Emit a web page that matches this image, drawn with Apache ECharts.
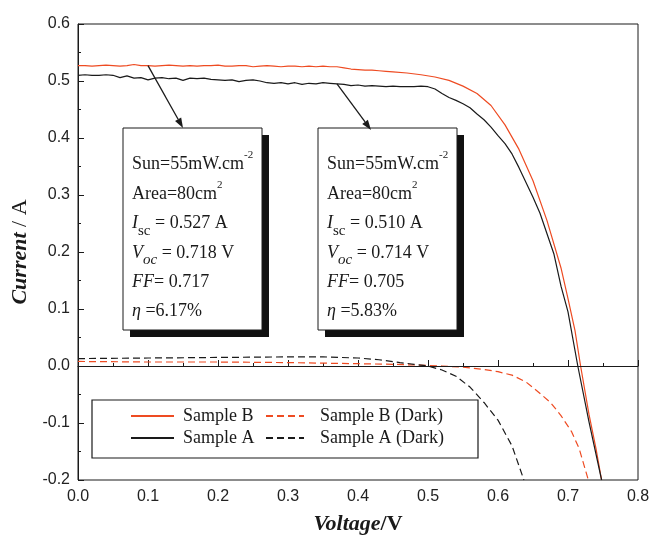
<!DOCTYPE html>
<html>
<head>
<meta charset="utf-8">
<script src="https://cdn.jsdelivr.net/npm/echarts@6.0.0/dist/echarts.min.js"></script>
<style>
html,body{margin:0;padding:0;background:#fff;}
#main{width:656px;height:537px;}
</style>
</head>
<body>
<div id="main"></div>
<script>
// I-V curves, light and dark
var voltageB = [0.00,0.01,0.02,0.03,0.04,0.05,0.06,0.07,0.08,0.09,0.10,0.11,0.12,0.13,0.14,0.15,0.16,0.17,0.18,0.19,
  0.20,0.21,0.22,0.23,0.24,0.25,0.26,0.27,0.28,0.29,0.30,0.31,0.32,0.33,0.34,0.35,0.36,0.37,0.38,0.39,
  0.40,0.41,0.42,0.43,0.44,0.45,0.47,0.49,0.51,0.53,0.55,0.57,0.59,0.61,0.63,0.65,0.67,0.69,0.70,0.71,
  0.718,0.73,0.74,0.748];
var currentB = [0.527,0.527,0.526,0.527,0.528,0.527,0.526,0.527,0.529,0.527,0.527,0.526,0.527,0.528,0.527,0.526,0.527,0.526,0.527,0.527,
  0.528,0.526,0.526,0.527,0.527,0.525,0.526,0.527,0.526,0.525,0.526,0.526,0.525,0.526,0.525,0.526,0.525,0.525,0.523,0.521,
  0.520,0.519,0.519,0.518,0.517,0.516,0.514,0.511,0.507,0.501,0.491,0.478,0.457,0.423,0.380,0.325,0.255,0.172,0.118,0.062,
  0.000,-0.085,-0.145,-0.200];

var voltageA = [0.00,0.01,0.02,0.03,0.04,0.05,0.06,0.07,0.08,0.09,0.10,0.11,0.12,0.13,0.14,0.15,0.16,0.17,0.18,0.19,
  0.20,0.21,0.22,0.23,0.24,0.25,0.26,0.27,0.28,0.29,0.30,0.31,0.32,0.33,0.34,0.35,0.36,0.37,0.38,0.39,
  0.40,0.41,0.42,0.43,0.44,0.45,0.46,0.47,0.48,0.49,0.50,0.51,0.52,0.53,0.54,0.55,0.56,0.57,0.58,0.59,
  0.60,0.61,0.62,0.63,0.64,0.65,0.66,0.67,0.68,0.69,0.70,0.714,0.73,0.748];
var currentA = [0.510,0.511,0.510,0.510,0.511,0.510,0.506,0.509,0.505,0.506,0.502,0.505,0.506,0.504,0.505,0.501,0.505,0.504,0.505,0.503,
  0.502,0.501,0.502,0.499,0.501,0.502,0.500,0.497,0.496,0.497,0.495,0.497,0.494,0.496,0.495,0.497,0.496,0.495,0.494,0.492,
  0.493,0.491,0.492,0.491,0.490,0.491,0.490,0.490,0.490,0.491,0.490,0.486,0.478,0.471,0.466,0.460,0.453,0.442,0.432,0.419,
  0.404,0.390,0.372,0.348,0.322,0.296,0.268,0.232,0.196,0.140,0.095,0.000,-0.098,-0.200];

var voltageBDark = [0.00,0.10,0.20,0.30,0.40,0.45,0.50,0.52,0.55,0.58,0.60,0.62,0.64,0.658,0.675,0.69,0.705,0.716,0.729];
var currentBDark = [0.008,0.007,0.007,0.006,0.004,0.003,0.001,0.000,-0.002,-0.006,-0.010,-0.016,-0.028,-0.046,-0.064,-0.087,-0.115,-0.145,-0.200];

var voltageADark = [0.00,0.10,0.20,0.30,0.35,0.40,0.43,0.46,0.48,0.50,0.52,0.54,0.56,0.58,0.60,0.62,0.637];
var currentADark = [0.013,0.014,0.015,0.016,0.016,0.014,0.011,0.006,0.003,0.000,-0.007,-0.018,-0.037,-0.064,-0.095,-0.140,-0.200];

var xTicks = [0, 0.8, 0.1];
var yTicks = [-0.2, 0.6, 0.1];

var RED = '#ee4b22';
var INK = '#1a1a1a';
var SERIF = 'Liberation Serif';
var SANS = 'Liberation Sans';

function zip(xs, ys) { return xs.map(function (x, i) { return [x, ys[i]]; }); }

var chart = echarts.init(document.getElementById('main'));

var legendText = {fontFamily: SERIF, fontSize: 18, color: INK};
function oneLegend(name, left, top, w, gap) {
  return {data: [name], left: left, top: top, itemWidth: w, itemHeight: 14, padding: 0,
    selectedMode: false, itemStyle: {opacity: 0, borderWidth: 0},
    textStyle: Object.assign({}, legendText, {padding: [0, 0, 0, gap]})};
}

chart.setOption({
  animation: false,
  grid: {left: 78, right: 18, top: 24, bottom: 57, show: true, borderColor: INK, borderWidth: 1,
    outerBoundsMode: 'none'},
  xAxis: {
    type: 'value', min: xTicks[0], max: xTicks[1], interval: xTicks[2],
    axisLine: {lineStyle: {color: INK}},
    axisTick: {inside: true, length: 6, lineStyle: {color: INK}},
    minorTick: {show: true, splitNumber: 2, length: 3, lineStyle: {color: INK}},
    splitLine: {show: false},
    axisLabel: {fontFamily: SANS, fontSize: 16, color: '#222', margin: 9,
      formatter: function (v) { return Math.abs(v) < 1e-9 ? '0.0' : v.toFixed(1); }},
    name: '{a|Voltage}{b|/V}', nameLocation: 'middle', nameGap: 33,
    nameTextStyle: {rich: {
      a: {fontFamily: SERIF, fontSize: 22, fontStyle: 'italic', fontWeight: 'bold', color: INK},
      b: {fontFamily: SERIF, fontSize: 22, fontWeight: 'bold', color: INK}}}
  },
  yAxis: {
    type: 'value', min: yTicks[0], max: yTicks[1], interval: yTicks[2],
    axisLine: {show: true, lineStyle: {color: INK}},
    axisTick: {show: true, inside: true, length: 6, lineStyle: {color: INK}},
    minorTick: {show: true, splitNumber: 2, length: 3, lineStyle: {color: INK}},
    splitLine: {show: false},
    axisLabel: {fontFamily: SANS, fontSize: 16, color: '#222', margin: 8,
      formatter: function (v) { return Math.abs(v) < 1e-9 ? '0.0' : v.toFixed(1); }},
    name: '{a|Current}{b| / A}', nameLocation: 'middle', nameGap: 39,
    nameTextStyle: {rich: {
      a: {fontFamily: SERIF, fontSize: 22, fontStyle: 'italic', fontWeight: 'bold', color: INK},
      b: {fontFamily: SERIF, fontSize: 22, color: INK}}}
  },
  legend: [
    oneLegend('Sample B', 130, 407, 43, 4),
    oneLegend('Sample B (Dark)', 265, 407, 38, 11),
    oneLegend('Sample A', 130, 429, 43, 4),
    oneLegend('Sample A (Dark)', 265, 429, 38, 11)
  ],
  series: [
    {name: 'Sample B', type: 'line', data: zip(voltageB, currentB), symbol: 'none', z: 3,
      color: RED, lineStyle: {color: RED, width: 1.2},
      markLine: {silent: true, symbol: ['none', 'none'], label: {show: false},
        lineStyle: {color: INK, type: 'solid', width: 1}, data: [{yAxis: 0}]}},
    {name: 'Sample B (Dark)', type: 'line', data: zip(voltageBDark, currentBDark), symbol: 'none', z: 3,
      color: RED, lineStyle: {color: RED, width: 1.2, type: [7, 4]}},
    {name: 'Sample A', type: 'line', data: zip(voltageA, currentA), symbol: 'none', z: 3,
      color: INK, lineStyle: {color: INK, width: 1.2}},
    {name: 'Sample A (Dark)', type: 'line', data: zip(voltageADark, currentADark), symbol: 'none', z: 3,
      color: INK, lineStyle: {color: INK, width: 1.2, type: [7, 4]}}
  ]
});

// annotation boxes and arrows
var boxRich = {
  i: {fontFamily: SERIF, fontSize: 18, fontStyle: 'italic', fill: INK},
  sup: {fontFamily: SERIF, fontSize: 11, lineHeight: 20, verticalAlign: 'top', fill: INK},
  sub: {fontFamily: SERIF, fontSize: 15, lineHeight: 20, verticalAlign: 'bottom', fill: INK},
  subi: {fontFamily: SERIF, fontSize: 15, fontStyle: 'italic', lineHeight: 20, verticalAlign: 'bottom', fill: INK}
};
function box(x, y, lines) {
  var w = 139, h = 202;
  return [
    {type: 'rect', shape: {x: x + 7, y: y + 7, width: w, height: h}, style: {fill: '#111'}, z: 20},
    {type: 'rect', shape: {x: x, y: y, width: w, height: h}, style: {fill: '#fff', stroke: INK, lineWidth: 1}, z: 21},
    {type: 'text', x: x + 9, y: y + 22, z: 22,
      style: {text: lines.join('\n'), fontFamily: SERIF, fontSize: 18, lineHeight: 29.4, fill: INK, rich: boxRich}}
  ];
}
function arrow(from, to) {
  var dx = to[0] - from[0], dy = to[1] - from[1], len = Math.sqrt(dx * dx + dy * dy);
  var ux = dx / len, uy = dy / len, hl = 10, hw = 3.5;
  var bx = to[0] - ux * hl, by = to[1] - uy * hl;
  return [
    {type: 'line', shape: {x1: from[0], y1: from[1], x2: bx, y2: by}, style: {stroke: INK, lineWidth: 1.3}, z: 23},
    {type: 'polygon', shape: {points: [to, [bx - uy * hw, by + ux * hw], [bx + uy * hw, by - ux * hw]]}, style: {fill: INK}, z: 23}
  ];
}

var startB = chart.convertToPixel({gridIndex: 0}, [0.10, 0.527]);
var startA = chart.convertToPixel({gridIndex: 0}, [0.37, 0.495]);

var graphics = [].concat(
  box(123, 128, ['Sun=55mW.cm{sup|-2}', 'Area=80cm{sup|2}', '{i|I}{sub|sc} = 0.527 A',
    '{i|V}{subi|oc} = 0.718 V', '{i|FF}= 0.717', '{i|η} =6.17%']),
  box(318, 128, ['Sun=55mW.cm{sup|-2}', 'Area=80cm{sup|2}', '{i|I}{sub|sc} = 0.510 A',
    '{i|V}{subi|oc} = 0.714 V', '{i|FF}= 0.705', '{i|η} =5.83%']),
  arrow(startB, [183, 128]),
  arrow(startA, [371, 130]),
  [{type: 'rect', shape: {x: 92, y: 400, width: 386, height: 58}, style: {fill: '#fff', stroke: INK, lineWidth: 1.2}, z: 3}]
);
chart.setOption({graphic: graphics});
</script>
</body>
</html>
